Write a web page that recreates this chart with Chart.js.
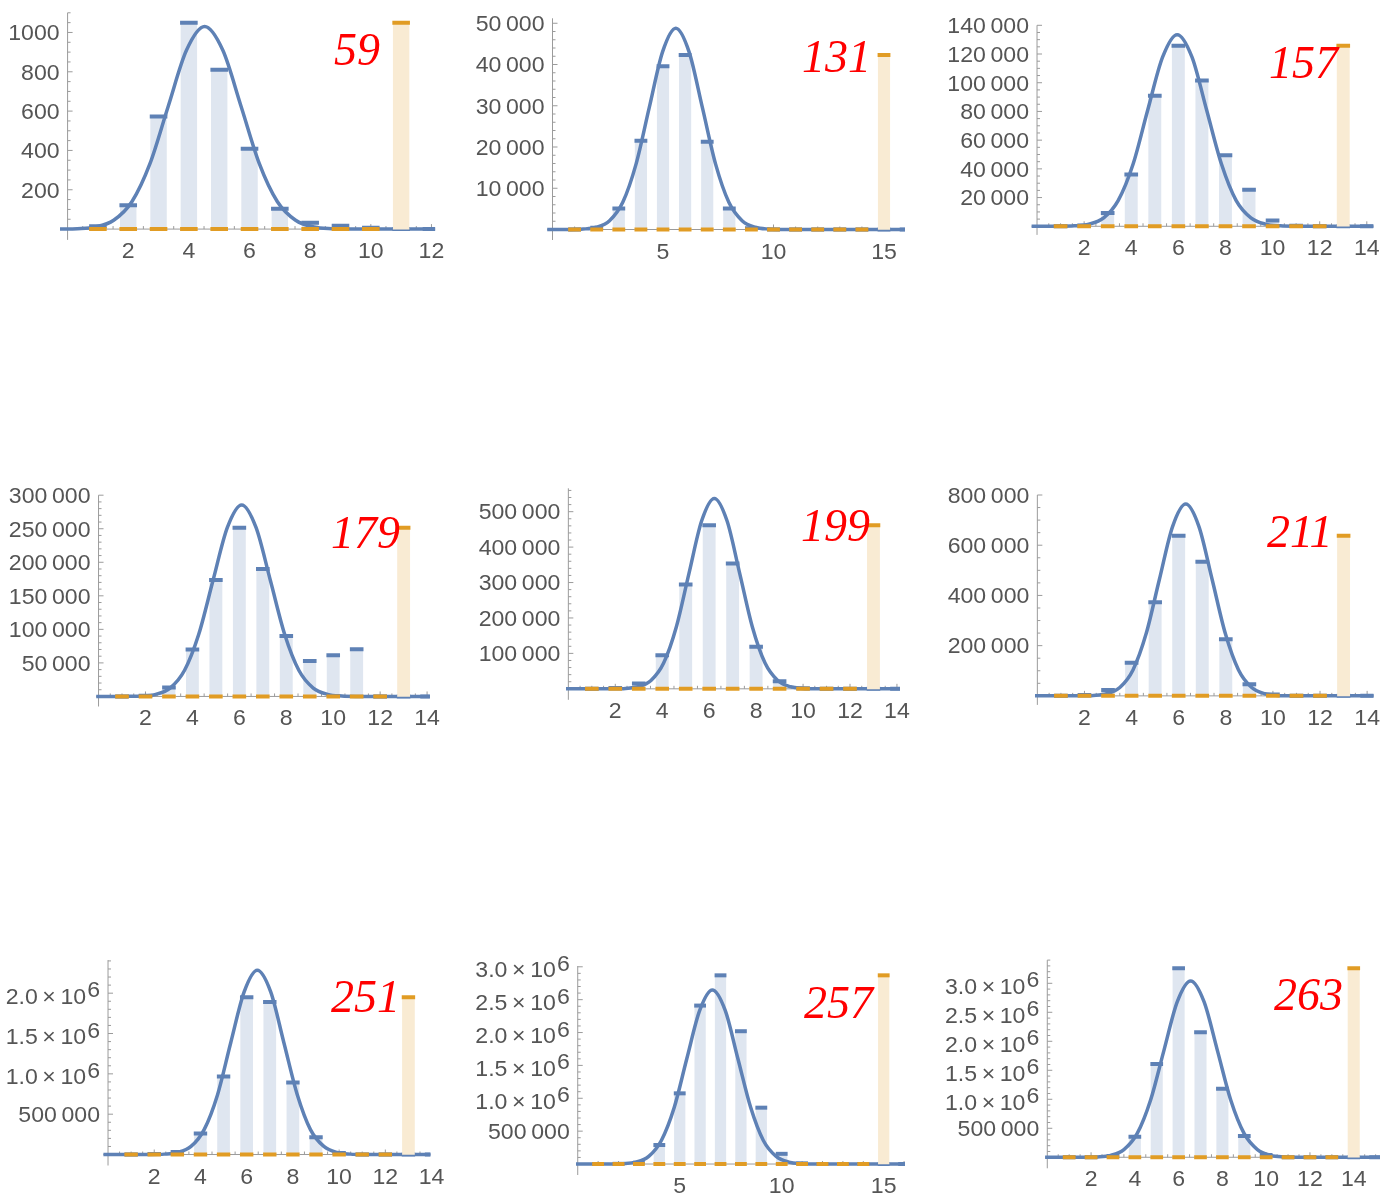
<!DOCTYPE html>
<html>
<head>
<meta charset="utf-8">
<script src="https://cdn.jsdelivr.net/npm/chart.js@4.4.0/dist/chart.umd.min.js"></script>
<style>
  html, body { margin: 0; padding: 0; background: #fff; }
  #page { position: relative; width: 1398px; height: 1196px; overflow: hidden; }
  #page canvas { position: absolute; }
</style>
</head>
<body>
<div id="page"></div>
<script>
// ---- data (bars sit at x = 1, 2, 3, ...) ----
const blue59 = [14, 121, 573, 1050, 810, 408, 104, 32, 17, 7, 0, 0];
const orange59 = [0, 0, 0, 0, 0, 0, 0, 0, 0, 0, 1050];
const curveX59 = [-0.25, 0.32, 0.92, 1.52, 2.12, 2.72, 3.32, 3.92, 4.52, 5.12, 5.72, 6.32, 6.92, 7.52, 8.12, 8.72, 9.32, 10.7, 12.12];
const curveY59 = [0, 2, 11, 45, 139, 334, 625, 909, 1030, 909, 625, 334, 139, 45, 11, 2, 0, 0, 0];
const xTicks59 = [2, 4, 6, 8, 10, 12];
const yTicks59 = [200, 400, 600, 800, 1000];

const blue131 = [0, 450, 5100, 21500, 39600, 42300, 21300, 5100, 300, 0, 0, 0, 0, 0, 0, 0];
const orange131 = [0, 0, 0, 0, 0, 0, 0, 0, 0, 0, 0, 0, 0, 0, 42300];
const curveX131 = [-0.24, 0.78, 1.38, 1.98, 2.58, 3.18, 3.78, 4.38, 4.98, 5.58, 6.18, 6.78, 7.38, 7.98, 8.58, 9.18, 9.78, 10.38, 12, 15.95];
const curveY131 = [0, 16, 107, 542, 2142, 6603, 15846, 29597, 43066, 48800, 43066, 29597, 15846, 6603, 2142, 542, 107, 15, 0, 0];
const xTicks131 = [5, 10, 15];
const yTicks131 = [10000, 20000, 30000, 40000, 50000];

const blue157 = [0, 600, 9300, 36000, 91000, 125800, 101500, 49400, 25500, 4000, 300, 0, 0, 0];
const orange157 = [0, 0, 0, 0, 0, 0, 0, 0, 0, 0, 0, 0, 125800];
const curveX157 = [-0.23, 0.95, 1.58, 2.2, 2.83, 3.45, 4.08, 4.7, 5.33, 5.95, 6.58, 7.2, 7.83, 8.45, 9.08, 9.7, 10.33, 10.95, 12.5, 14.28];
const curveY157 = [0, 40, 294, 1482, 5861, 18063, 43347, 80968, 117814, 133500, 117814, 80968, 43347, 18063, 5861, 1482, 294, 40, 0, 0];
const xTicks157 = [2, 4, 6, 8, 10, 12, 14];
const yTicks157 = [20000, 40000, 60000, 80000, 100000, 120000, 140000];

const blue179 = [0, 1000, 13500, 70000, 173700, 251500, 190000, 90000, 53000, 61500, 70500, 0, 0, 0];
const orange179 = [0, 0, 0, 0, 0, 0, 0, 0, 0, 0, 0, 0, 251500];
const curveX179 = [-0.1, 1.22, 1.83, 2.44, 3.05, 3.66, 4.27, 4.88, 5.49, 6.1, 6.71, 7.32, 7.93, 8.54, 9.15, 9.76, 10.37, 10.98, 12.5, 14.12];
const curveY179 = [0, 86, 628, 3169, 12533, 38628, 92702, 173156, 251954, 285500, 251954, 173156, 92702, 38628, 12533, 3169, 628, 86, 0, 0];
const xTicks179 = [2, 4, 6, 8, 10, 12, 14];
const yTicks179 = [50000, 100000, 150000, 200000, 250000, 300000];

const blue199 = [0, 2000, 15000, 95000, 294700, 462000, 354000, 118600, 21700, 1500, 0, 0, 0, 0];
const orange199 = [0, 0, 0, 0, 0, 0, 0, 0, 0, 0, 0, 0, 462000];
const curveX199 = [-0.1, 1.9, 2.44, 2.98, 3.52, 4.06, 4.6, 5.14, 5.68, 6.22, 6.76, 7.3, 7.84, 8.38, 8.92, 9.46, 10.0, 10.54, 12, 14.13];
const curveY199 = [0, 161, 1183, 5966, 23596, 72724, 174526, 325994, 474344, 537500, 474344, 325994, 174526, 72724, 23596, 5966, 1183, 161, 0, 0];
const xTicks199 = [2, 4, 6, 8, 10, 12, 14];
const yTicks199 = [100000, 200000, 300000, 400000, 500000];

const blue211 = [0, 3000, 23000, 132000, 372700, 638000, 534500, 225000, 46000, 5000, 0, 0, 0, 0];
const orange211 = [0, 0, 0, 0, 0, 0, 0, 0, 0, 0, 0, 0, 638000];
const curveX211 = [-0.1, 1.82, 2.38, 2.94, 3.5, 4.06, 4.62, 5.18, 5.74, 6.3, 6.86, 7.42, 7.98, 8.54, 9.1, 9.66, 10.22, 10.78, 12.3, 14.27];
const curveY211 = [0, 257, 1681, 8480, 33540, 103369, 248071, 463366, 674230, 764000, 674230, 463366, 248071, 103369, 33540, 8480, 1681, 257, 0, 0];
const xTicks211 = [2, 4, 6, 8, 10, 12, 14];
const yTicks211 = [200000, 400000, 600000, 800000];

const blue251 = [0, 5000, 30000, 260000, 967000, 1950000, 1890000, 893000, 215000, 20000, 0, 0, 0, 0];
const orange251 = [0, 0, 0, 0, 0, 0, 0, 0, 0, 0, 0, 0, 1950000];
const curveX251 = [-0.2, 1.86, 2.43, 3.01, 3.59, 4.16, 4.74, 5.31, 5.89, 6.46, 7.04, 7.61, 8.19, 8.76, 9.34, 9.91, 10.49, 11.06, 12.5, 13.95];
const curveY251 = [0, 685, 5027, 25364, 100312, 309160, 741940, 1385850, 2016510, 2285000, 2016510, 1385850, 741940, 309160, 100312, 25364, 5027, 685, 0, 0];
const xTicks251 = [2, 4, 6, 8, 10, 12, 14];
const yTicks251 = [500000, 1000000, 1500000, 2000000];

const blue257 = [0, 3000, 20000, 289000, 1075000, 2410000, 2870000, 2020000, 857000, 155000, 10000, 0, 0, 0, 0, 0];
const orange257 = [0, 0, 0, 0, 0, 0, 0, 0, 0, 0, 0, 0, 0, 0, 2870000];
const curveX257 = [-0.08, 1.6, 2.23, 2.85, 3.48, 4.1, 4.73, 5.35, 5.98, 6.6, 7.23, 7.85, 8.48, 9.1, 9.73, 10.35, 10.98, 11.6, 13, 16.04];
const curveY257 = [0, 794, 5823, 29382, 116203, 358141, 859479, 1605410, 2335970, 2647000, 2335970, 1605410, 859479, 358141, 116203, 29382, 5823, 794, 0, 0];
const xTicks257 = [5, 10, 15];
const yTicks257 = [500000, 1000000, 1500000, 2000000, 2500000, 3000000];

const blue263 = [0, 0, 20000, 355000, 1610000, 3260000, 2155000, 1180000, 367000, 40000, 0, 0, 0, 0, 0];
const orange263 = [0, 0, 0, 0, 0, 0, 0, 0, 0, 0, 0, 0, 0, 3260000];
const curveX263 = [-0.1, 1.67, 2.28, 2.89, 3.5, 4.11, 4.72, 5.33, 5.94, 6.55, 7.16, 7.77, 8.38, 8.99, 9.6, 10.21, 10.82, 11.43, 13, 15.2];
const curveY263 = [0, 912, 6688, 33744, 133456, 411312, 987088, 1843760, 2682800, 3040000, 2682800, 1843760, 987088, 411312, 133456, 33744, 6688, 912, 0, 0];
const xTicks263 = [2, 4, 6, 8, 10, 12, 14];
const yTicks263 = [500000, 1000000, 1500000, 2000000, 2500000, 3000000];

// ---- layout: plot box [left, top, right, bottom] in page px, axis ranges, label spot ----
const panels = [
  { tag: '59',  blue: blue59,  orange: orange59,  cx: curveX59,  cy: curveY59,  xt: xTicks59,  yt: yTicks59,  xMinor: 0.5, yMinor: 50,
    x: [-0.25, 12.12], y: [-55, 1100], box: [60, 10.1, 435.1, 239.9], at: [335, 65] },
  { tag: '131', blue: blue131, orange: orange131, cx: curveX131, cy: curveY131, xt: xTicks131, yt: yTicks131, xMinor: 1, yMinor: 2000,
    x: [-0.24, 15.95], y: [-2545, 51200], box: [547.2, 18.3, 905, 240], at: [803, 71.7] },
  { tag: '157', blue: blue157, orange: orange157, cx: curveX157, cy: curveY157, xt: xTicks157, yt: yTicks157, xMinor: 0.5, yMinor: 5000,
    x: [-0.23, 14.28], y: [-6000, 140000], box: [1031.6, 25.3, 1373.4, 234.9], at: [1270, 78.3] },
  { tag: '179', blue: blue179, orange: orange179, cx: curveX179, cy: curveY179, xt: xTicks179, yt: yTicks179, xMinor: 0.5, yMinor: 10000,
    x: [-0.1, 14.12], y: [-15000, 300000], box: [96.2, 495.2, 429.9, 706.5], at: [332, 548.3] },
  { tag: '199', blue: blue199, orange: orange199, cx: curveX199, cy: curveY199, xt: xTicks199, yt: yTicks199, xMinor: 0.5, yMinor: 20000,
    x: [-0.1, 14.13], y: [-31000, 566000], box: [566, 488.3, 900, 699.8], at: [802, 540.7] },
  { tag: '211', blue: blue211, orange: orange211, cx: curveX211, cy: curveY211, xt: xTicks211, yt: yTicks211, xMinor: 0.5, yMinor: 50000,
    x: [-0.1, 14.27], y: [-36000, 800000], box: [1035, 495, 1373.5, 704.9], at: [1268, 547.3] },
  { tag: '251', blue: blue251, orange: orange251, cx: curveX251, cy: curveY251, xt: xTicks251, yt: yTicks251, xMinor: 0.5, yMinor: 100000,
    x: [-0.2, 13.95], y: [-136000, 2410000], box: [103.4, 960.1, 430.4, 1165.5], at: [332, 1011.7] },
  { tag: '257', blue: blue257, orange: orange257, cx: curveX257, cy: curveY257, xt: xTicks257, yt: yTicks257, xMinor: 1, yMinor: 100000,
    x: [-0.08, 16.04], y: [-167000, 3012000], box: [576.1, 966, 904.9, 1175], at: [805, 1018.3] },
  { tag: '263', blue: blue263, orange: orange263, cx: curveX263, cy: curveY263, xt: xTicks263, yt: yTicks263, xMinor: 0.5, yMinor: 100000,
    x: [-0.1, 15.2], y: [-190000, 3400000], box: [1045.1, 960.1, 1380, 1168.3], at: [1275, 1010] }
];

const colLeft = [0, 460, 920], colWidth = [460, 460, 478];
const rowTop = [0, 470, 940], rowHeight = [270, 270, 256];

const BLUE = '#5e81b5', BLUE_FILL = '#dfe6f0';
const ORANGE = '#e19c24', ORANGE_FILL = '#f9ebd3';
const AXIS = '#9b9b9b', TICK_TEXT = '#555555';
const TICK_FONT = '22px "Liberation Sans", Arial, sans-serif';
const STRETCH = 1.05;

function fmt(v) {
  if (v >= 1e6) {
    const e = Math.floor(Math.log10(v));
    return { main: (v / Math.pow(10, e)).toFixed(1) + '\u2009\u00d7\u200910', sup: String(e) };
  }
  if (v >= 10000) return { main: String(v).replace(/\B(?=(\d{3})+(?!\d))/g, '\u2009'), sup: '' };
  return { main: String(v), sup: '' };
}

function stretchedText(ctx, s, x, y, align) {
  ctx.save();
  ctx.translate(x, y);
  ctx.scale(STRETCH, 1);
  ctx.textAlign = align;
  ctx.fillText(s, 0, 0);
  ctx.restore();
}

const page = document.getElementById('page');

panels.forEach((p, i) => {
  const col = i % 3, row = Math.floor(i / 3);
  const cl = colLeft[col], ct = rowTop[row], cw = colWidth[col], ch = rowHeight[row];
  const cv = document.createElement('canvas');
  cv.width = cw; cv.height = ch;
  cv.style.left = cl + 'px'; cv.style.top = ct + 'px';
  cv.style.width = cw + 'px'; cv.style.height = ch + 'px';
  page.appendChild(cv);

  const [L, T, R, B] = p.box;
  const unit = (R - L) / (p.x[1] - p.x[0]);
  const barW = 0.52 * unit;
  const capHalf = 0.29 * unit;
  const pts = arr => arr.map((v, k) => ({ x: k + 1, y: v }));

  const axes = {
    id: 'axes' + i,
    beforeDatasetsDraw(chart) {
      const ctx = chart.ctx, sx = chart.scales.x, sy = chart.scales.y, area = chart.chartArea;
      const x0 = sx.getPixelForValue(0), y0 = sy.getPixelForValue(0);
      ctx.save();
      ctx.strokeStyle = AXIS;
      ctx.lineWidth = 1;
      ctx.beginPath();
      ctx.moveTo(area.left, y0); ctx.lineTo(area.right, y0);
      ctx.moveTo(x0, area.top); ctx.lineTo(x0, area.bottom);
      for (let k = 1; k * p.xMinor <= p.x[1] + 1e-9; k++) {
        const v = k * p.xMinor, px = sx.getPixelForValue(v);
        const len = p.xt.some(t => Math.abs(t - v) < 1e-9) ? 5 : 3;
        ctx.moveTo(px, y0); ctx.lineTo(px, y0 - len);
      }
      for (let k = 1; k * p.yMinor <= p.y[1] + 1e-6; k++) {
        const v = k * p.yMinor, py = sy.getPixelForValue(v);
        const len = p.yt.some(t => Math.abs(t - v) < 1e-6) ? 5 : 3;
        ctx.moveTo(x0, py); ctx.lineTo(x0 + len, py);
      }
      ctx.stroke();

      ctx.fillStyle = TICK_TEXT;
      ctx.font = TICK_FONT;
      ctx.textBaseline = 'alphabetic';
      p.xt.forEach(v => stretchedText(ctx, String(v), sx.getPixelForValue(v), y0 + 29, 'center'));
      p.yt.forEach(v => {
        const py = sy.getPixelForValue(v), f = fmt(v), xr = x0 - 8;
        if (f.sup) {
          const supW = ctx.measureText(f.sup).width * STRETCH;
          stretchedText(ctx, f.sup, xr, py + 4, 'right');
          stretchedText(ctx, f.main, xr - supW - 1, py + 10.6, 'right');
        } else {
          stretchedText(ctx, f.main, xr, py + 7.8, 'right');
        }
      });
      ctx.restore();
    },
    afterDatasetsDraw(chart) {
      const ctx = chart.ctx;
      ctx.save();
      ctx.fillStyle = '#ff0000';
      ctx.font = 'italic 46px "Liberation Serif", "Times New Roman", serif';
      ctx.textAlign = 'left';
      ctx.textBaseline = 'alphabetic';
      ctx.fillText(p.tag, p.at[0] - cl - 1, p.at[1] - ct);
      ctx.restore();
    }
  };

  new Chart(cv, {
    type: 'bar',
    data: {
      datasets: [
        { type: 'line', data: pts(p.orange), showLine: false, pointStyle: 'line',
          pointRadius: capHalf, pointHoverRadius: capHalf, pointBorderWidth: 4,
          pointBorderColor: ORANGE, pointBackgroundColor: ORANGE, order: 1 },
        { type: 'bar', data: pts(p.orange), backgroundColor: ORANGE_FILL, borderWidth: 0,
          barThickness: barW, grouped: false, order: 2 },
        { type: 'line', data: p.cx.map((x, k) => ({ x: x, y: p.cy[k] })), borderColor: BLUE,
          borderWidth: 3.5, pointRadius: 0, cubicInterpolationMode: 'monotone', fill: false,
          borderJoinStyle: 'round', borderCapStyle: 'round', order: 3 },
        { type: 'line', data: pts(p.blue), showLine: false, pointStyle: 'line',
          pointRadius: capHalf, pointHoverRadius: capHalf, pointBorderWidth: 4,
          pointBorderColor: BLUE, pointBackgroundColor: BLUE, order: 4 },
        { type: 'bar', data: pts(p.blue), backgroundColor: BLUE_FILL, borderWidth: 0,
          barThickness: barW, grouped: false, order: 5 }
      ]
    },
    options: {
      responsive: false,
      animation: false,
      events: [],
      layout: { padding: { left: L - cl, right: cl + cw - R, top: T - ct, bottom: ct + ch - B } },
      plugins: { legend: { display: false }, tooltip: { enabled: false } },
      scales: {
        x: { type: 'linear', min: p.x[0], max: p.x[1], offset: false, display: false },
        y: { type: 'linear', min: p.y[0], max: p.y[1], display: false }
      }
    },
    plugins: [axes]
  });
});
</script>
</body>
</html>
